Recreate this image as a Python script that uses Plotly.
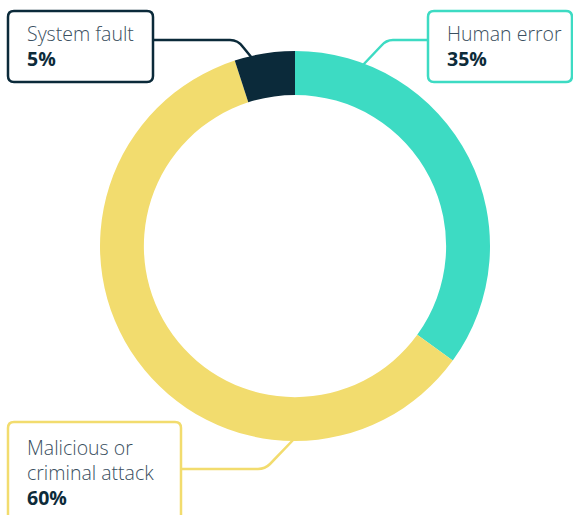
import plotly.graph_objects as go

# Incident causes, share of total (%)
causes = ["Human error", "Malicious or criminal attack", "System fault"]
shares = [35, 60, 5]
colors = ["#3ddbc3", "#f2dc6e", "#0b2a3a"]

W, H = 573, 515
LABEL_COLOR = "#3a4f60"
VALUE_COLOR = "#0d2b3a"
FONT = "Open Sans"


def px(x):
    return x / W


def py(y):
    return 1 - y / H


def path_string(segments):
    parts = []
    for seg in segments:
        coords = " ".join(f"{px(x):.5f},{py(y):.5f}" for x, y in seg[1:])
        parts.append(f"{seg[0]} {coords}")
    return " ".join(parts)


def rounded_box(x0, y0, x1, y1, r=6):
    segs = [
        ("M", (x0 + r, y0)), ("L", (x1 - r, y0)), ("Q", (x1, y0), (x1, y0 + r)),
        ("L", (x1, y1 - r)), ("Q", (x1, y1), (x1 - r, y1)),
        ("L", (x0 + r, y1)), ("Q", (x0, y1), (x0, y1 - r)),
        ("L", (x0, y0 + r)), ("Q", (x0, y0), (x0 + r, y0)),
    ]
    return path_string(segs) + " Z"


cx, cy, R = 295, 246, 195

fig = go.Figure(
    go.Pie(
        labels=causes,
        values=shares,
        marker=dict(colors=colors, line=dict(width=0)),
        hole=0.775,
        sort=False,
        direction="clockwise",
        rotation=0,
        textinfo="none",
        hoverinfo="label+percent",
        showlegend=False,
        domain=dict(x=[px(cx - R), px(cx + R)], y=[py(cy + R), py(cy - R)]),
    )
)

boxes = [
    # (x0, y0, x1, y1, border colour)
    (8, 11, 153, 82, colors[2]),
    (428, 11, 572, 82, colors[0]),
    (8, 422, 181, 530, colors[1]),
]
shapes = []
for x0, y0, x1, y1, c in boxes:
    shapes.append(dict(type="path", xref="paper", yref="paper",
                       path=rounded_box(x0, y0, x1, y1),
                       line=dict(color=c, width=2.5), fillcolor="white"))

leaders = [
    ([("M", (153, 40)), ("L", (230, 40)), ("Q", (238, 40), (243, 47)), ("L", (252, 58))], colors[2]),
    ([("M", (428, 40)), ("L", (393, 40)), ("Q", (386, 40), (381, 46)), ("L", (362, 66))], colors[0]),
    ([("M", (181, 469)), ("L", (258, 469)), ("Q", (265, 469), (270, 464)), ("L", (295, 438))], colors[1]),
]
for pts, c in leaders:
    shapes.append(dict(type="path", xref="paper", yref="paper", path=path_string(pts),
                       line=dict(color=c, width=2.5), layer="below"))

texts = [
    # (x, y centre, text, bold)
    (25, 33, "System fault", False),
    (25, 58, f"{shares[2]}%", True),
    (445, 33, "Human error", False),
    (445, 58, f"{shares[0]}%", True),
    (25, 447, "Malicious or", False),
    (25, 472, "criminal attack", False),
    (25, 497, f"{shares[1]}%", True),
]

annotations = []
for x, y, t, bold in texts:
    annotations.append(dict(
        x=px(x), y=py(y), xref="paper", yref="paper", xanchor="left", yanchor="middle",
        text=t, showarrow=False,
        font=dict(family=FONT, size=19.5, color=VALUE_COLOR if bold else LABEL_COLOR,
                  weight=700 if bold else 300),
    ))

fig.update_layout(
    width=W, height=H,
    margin=dict(l=0, r=0, t=0, b=0),
    paper_bgcolor="white", plot_bgcolor="white",
    shapes=shapes, annotations=annotations,
)

fig.write_html("out.html")
